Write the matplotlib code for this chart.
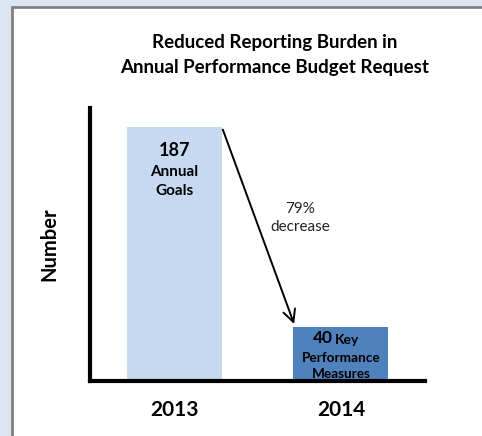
import matplotlib

matplotlib.use("Agg")
import matplotlib.pyplot as plt
from matplotlib.patches import Rectangle

plt.rcParams["font.family"] = ["Lato", "DejaVu Sans"]

years = ["2013", "2014"]
counts = [187, 40]
bar_colors = ["#c6d9f0", "#4f81bd"]
title = "Reduced Reporting Burden in\nAnnual Performance Budget Request"
change_label = "79%\ndecrease"

fig = plt.figure(figsize=(4.82, 4.36), dpi=100)
fig.patch.set_facecolor("#dce6f1")
# white chart panel with grey frame, running off the right/bottom edges
fig.patches.append(Rectangle((12 / 482, -0.1), 1.2, 1.1 - 7 / 436,
                             transform=fig.transFigure, facecolor="white",
                             edgecolor="#808080", lw=2, zorder=-10))

ax = fig.add_axes([90 / 482, 1 - 381 / 436, (425 - 90) / 482, (381 - 108) / 436])
ax.set_zorder(5)
ax.set_facecolor("none")
x = list(range(len(years)))
width = 0.57
ax.bar(x, counts, width=width, color=bar_colors, zorder=1)
ax.set_xlim(-0.507, 0.505 + 1)
ax.set_ylim(0, 201)

for s in ["top", "right"]:
    ax.spines[s].set_visible(False)
for s in ["left", "bottom"]:
    ax.spines[s].set_linewidth(3)
    ax.spines[s].set_zorder(3)
ax.set_yticks([])
ax.set_xticks(x)
ax.set_xticklabels(years, fontsize=15, fontweight="bold")
ax.tick_params(axis="x", length=0, pad=14)
ax.set_ylabel("Number", fontsize=14.5, fontweight="bold", labelpad=22)

# labels inside the bars
ax.annotate("187", (0, counts[0]), xytext=(0, -23), textcoords="offset points",
            ha="center", va="bottom", fontsize=13, fontweight="bold")
ax.annotate("Annual\nGoals", (0, counts[0]), xytext=(0, -27), textcoords="offset points",
            ha="center", va="top", fontsize=11, fontweight="bold", linespacing=1.5)
ax.annotate("40", (1, counts[1]), xytext=(-6, -14), textcoords="offset points",
            ha="right", va="bottom", fontsize=12.5, fontweight="bold")
ax.annotate("Key", (1, counts[1]), xytext=(-4, -14), textcoords="offset points",
            ha="left", va="bottom", fontsize=10, fontweight="bold")
ax.annotate("Performance\nMeasures", (1, counts[1]), xytext=(0, -18), textcoords="offset points",
            ha="center", va="top", fontsize=9.8, fontweight="bold", linespacing=1.4,
            zorder=2)

# decrease arrow
ax.annotate("", xy=(1 - width / 2 + 0.01, counts[1]), xytext=(width / 2, counts[0]),
            arrowprops=dict(arrowstyle="->", lw=1.4, color="black", mutation_scale=22))
ax.text(0.757, 120, change_label, ha="center", va="center", fontsize=11,
        color="#222222", linespacing=1.35)

fig.text(275 / 482, 1 - 55 / 436, title, ha="center", va="center", fontsize=13.5,
         fontweight="bold", linespacing=1.6)

fig.savefig("out.png", dpi=100, facecolor=fig.get_facecolor())
